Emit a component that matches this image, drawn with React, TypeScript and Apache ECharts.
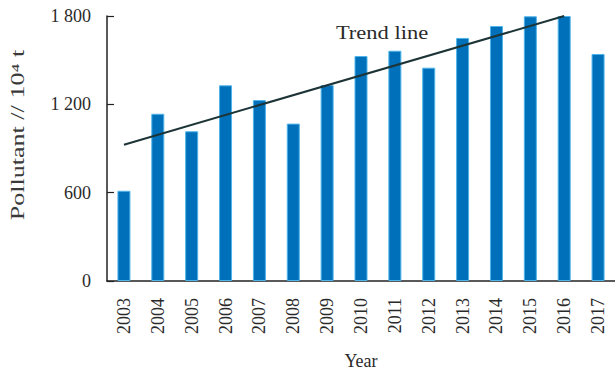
import React, { useEffect, useRef } from "react";
import * as echarts from "echarts";

// Annual pollutant totals (10^4 t)
const years = ["2003", "2004", "2005", "2006", "2007", "2008", "2009", "2010", "2011", "2012", "2013", "2014", "2015", "2016", "2017"];
const pollutant = [613, 1136, 1017, 1329, 1229, 1069, 1331, 1528, 1564, 1449, 1651, 1732, 1798, 1800, 1542];
// Linear trend: value at the first and last fitted year (null in between, joined)
const trend = [926, null, null, null, null, null, null, null, null, null, null, null, null, 1800, null];
const yTicks = [0, 600, 1200, 1800];

const serif = "Liberation Serif";
const ink = "#2a2a2a";

export default function App() {
  const ref = useRef<HTMLDivElement>(null);

  useEffect(() => {
    if (!ref.current) return;
    const chart = echarts.init(ref.current, null, { renderer: "svg" });
    chart.setOption({
      animation: false,
      backgroundColor: "#ffffff",
      grid: { left: 107, right: 0, top: 16, bottom: 90, outerBoundsMode: "none", containLabel: false },
      xAxis: {
        type: "category",
        data: years,
        boundaryGap: true,
        name: "Year",
        nameLocation: "middle",
        nameGap: 71,
        nameTextStyle: { fontFamily: serif, fontSize: 18, color: ink },
        axisLine: { lineStyle: { color: "#222", width: 1.5 } },
        axisTick: { inside: true, length: 7, lineStyle: { color: "#222", width: 1.2 } },
        axisLabel: { rotate: 90, margin: 17, fontFamily: serif, fontSize: 18, color: ink },
      },
      yAxis: {
        type: "value",
        min: yTicks[0],
        max: yTicks[yTicks.length - 1],
        interval: 600,
        splitLine: { show: false },
        axisLine: { show: true, lineStyle: { color: "#222", width: 1.5 } },
        axisTick: { show: true, inside: true, length: 7, lineStyle: { color: "#222", width: 1.2 } },
        axisLabel: {
          margin: 16,
          fontFamily: serif,
          fontSize: 18,
          color: ink,
          formatter: (v: number) => (v >= 1000 ? `${Math.floor(v / 1000)} ${String(v % 1000).padStart(3, "0")}` : String(v)),
        },
      },
      graphic: [
        {
          type: "text",
          x: 18,
          y: 135,
          rotation: Math.PI / 2,
          scaleX: 1.45,
          style: {
            text: "Pollutant // 10\u2074 t",
            fontFamily: serif,
            fontSize: 18,
            fontWeight: "normal",
            fill: "#3a3a3a",
            align: "center",
            verticalAlign: "middle",
          },
        },
        {
          type: "text",
          x: 382,
          y: 33,
          scaleX: 1.25,
          style: {
            text: "Trend line",
            fontFamily: serif,
            fontSize: 18,
            fill: ink,
            align: "center",
            verticalAlign: "middle",
          },
        },
      ],
      series: [
        {
          type: "bar",
          data: pollutant,
          barWidth: 13,
          itemStyle: { color: "#0070BA", borderColor: "#4fb4ea", borderWidth: 1 },
        },
        {
          type: "line",
          data: trend,
          connectNulls: true,
          symbol: "none",
          clip: false,
          lineStyle: { color: "#1d3436", width: 2 },
          z: 5,
        },
      ],
    });
    return () => chart.dispose();
  }, []);

  return <div ref={ref} style={{ position: "fixed", left: 0, top: 0, width: 615, height: 371 }} />;
}
